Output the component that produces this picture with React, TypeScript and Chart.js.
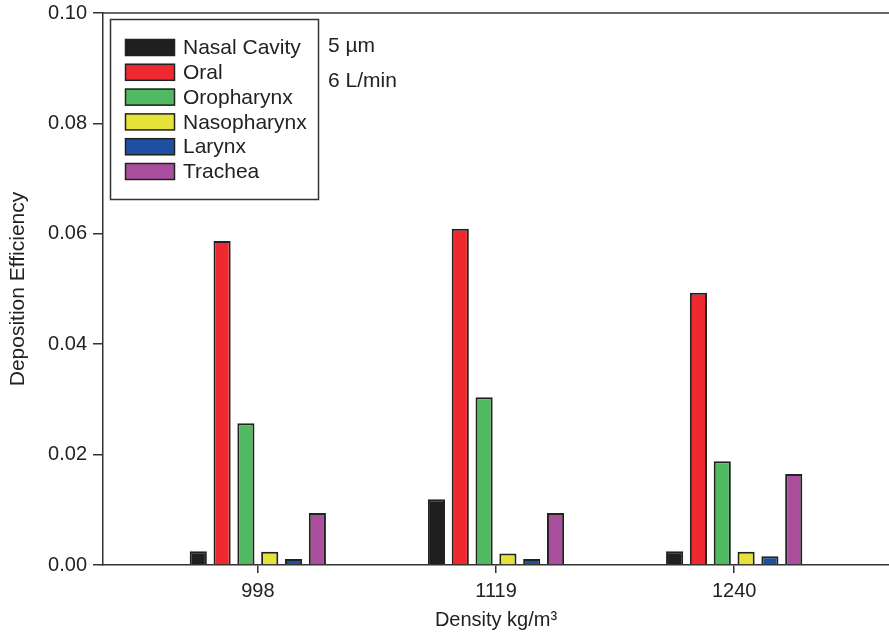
import React, { useEffect, useRef } from "react";
import { Chart, registerables } from "chart.js";

Chart.register(...registerables);

const categories = ["998", "1119", "1240"];
const seriesNames = ["Nasal Cavity", "Oral", "Oropharynx", "Nasopharynx", "Larynx", "Trachea"];
const seriesColors = ["#1e1f21", "#ee2a30", "#52b963", "#e5e33a", "#1f4fa0", "#a94f9e"];
const nasalCavity = [0.0025, 0.0119, 0.0025];
const oral = [0.0587, 0.0609, 0.0493];
const oropharynx = [0.0257, 0.0304, 0.0188];
const nasopharynx = [0.0024, 0.0021, 0.0024];
const larynx = [0.0011, 0.0011, 0.0016];
const trachea = [0.0094, 0.0094, 0.0165];
const seriesValues = [nasalCavity, oral, oropharynx, nasopharynx, larynx, trachea];
const yTicks = [0, 0.02, 0.04, 0.06, 0.08, 0.1];
const annotations = ["5 \u00b5m", "6 L/min"];

const FONT = "'Liberation Sans', Arial, Helvetica, sans-serif";
const INK = "#222222";

const framePlugin = {
  id: "framePlugin",
  afterDraw(chart: any) {
    const { ctx, chartArea } = chart;
    ctx.save();
    ctx.strokeStyle = "#333333";
    ctx.lineWidth = 1.5;
    ctx.beginPath();
    ctx.moveTo(chartArea.left, chartArea.top);
    ctx.lineTo(chartArea.right, chartArea.top);
    ctx.stroke();

    // legend box
    const bx = 110.5, by = 19.5, bw = 208, bh = 180;
    ctx.lineWidth = 1.5;
    ctx.strokeStyle = "#333333";
    ctx.fillStyle = "#ffffff";
    ctx.fillRect(bx, by, bw, bh);
    ctx.strokeRect(bx, by, bw, bh);
    ctx.font = `21px ${FONT}`;
    ctx.textBaseline = "middle";
    ctx.textAlign = "left";
    chart.data.datasets.forEach((ds: any, i: number) => {
      const top = 39 + i * 24.8;
      ctx.fillStyle = ds.backgroundColor;
      ctx.fillRect(125, top, 50, 17);
      ctx.strokeStyle = INK;
      ctx.lineWidth = 1.5;
      ctx.strokeRect(125.5, top + 0.5, 49, 16);
      ctx.fillStyle = INK;
      ctx.fillText(ds.label, 183, top + 9.5);
    });
    ctx.fillStyle = INK;
    annotations.forEach((t, i) => {
      ctx.fillText(t, 328, 46 + i * 35);
    });
    ctx.restore();
  },
};

export default function App() {
  const ref = useRef<HTMLCanvasElement | null>(null);
  useEffect(() => {
    document.body.style.margin = "0";
    if (!ref.current) return;
    const chart = new Chart(ref.current, {
      type: "bar",
      data: {
        datasets: seriesNames.map((name, si) => ({
          label: name,
          data: seriesValues[si].map((v, i) => ({ x: i, y: v })),
          backgroundColor: seriesColors[si],
          borderColor: INK,
          borderWidth: 2,
          categoryPercentage: 0.6,
          barPercentage: 0.72,
        })),
      },
      options: {
        responsive: false,
        animation: false,
        layout: { padding: { top: 13, right: 0, left: 0, bottom: 0 } },
        plugins: { legend: { display: false }, tooltip: { enabled: false } },
        scales: {
          x: {
            type: "linear",
            min: -0.65,
            max: 2.65,
            offset: false,
            grid: { offset: false, drawOnChartArea: false, color: "#333333", tickLength: 8, lineWidth: 1.5 },
            border: { color: "#333333", width: 1.5 },
            afterBuildTicks: (axis: any) => {
              axis.ticks = categories.map((_, i) => ({ value: i }));
            },
            afterFit: (axis: any) => {
              axis.height = 71;
              axis.paddingLeft = 0;
              axis.paddingRight = 0;
            },
            ticks: {
              color: INK,
              font: { size: 20, family: FONT },
              padding: 6,
              callback: (v: any) => categories[v as number] ?? "",
              maxRotation: 0,
            },
            title: {
              display: true,
              text: "Density kg/m\u00b3",
              color: INK,
              font: { size: 20, family: FONT },
              padding: { top: 0, bottom: 4 },
            },
          },
          y: {
            min: 0,
            max: 0.1,
            afterBuildTicks: (axis: any) => {
              axis.ticks = yTicks.map((v) => ({ value: v }));
            },
            afterFit: (axis: any) => {
              axis.width = 103;
              axis.paddingTop = 0;
              axis.paddingBottom = 0;
            },
            grid: { drawOnChartArea: false, color: "#333333", tickLength: 10, lineWidth: 1.5 },
            border: { color: "#333333", width: 1.5 },
            ticks: {
              color: INK,
              font: { size: 20, family: FONT },
              padding: 6,
              callback: (v: any) => Number(v).toFixed(2),
            },
            title: {
              display: true,
              text: "Deposition Efficiency",
              color: INK,
              font: { size: 21, family: FONT },
              padding: { top: 6, bottom: 0 },
            },
          },
        },
      },
      plugins: [framePlugin],
    } as any);
    return () => chart.destroy();
  }, []);
  return (
    <div style={{ width: 889, height: 636 }}>
      <canvas ref={ref} width={889} height={636} />
    </div>
  );
}
